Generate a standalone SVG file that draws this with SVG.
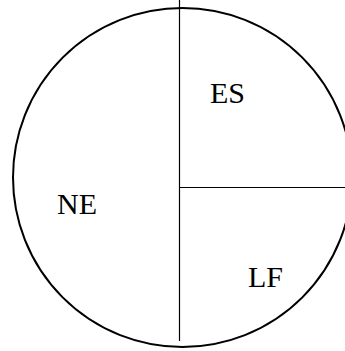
<svg xmlns="http://www.w3.org/2000/svg" width="345" height="351" viewBox="0 0 345 351">
<style>
.lbl{font-family:"Liberation Serif",serif;font-size:30px;fill:#000}
.ln{stroke:#000;stroke-width:1.2;fill:none}
</style>
<rect width="345" height="351" fill="#fff"/>
<g id="boundary"><circle cx="182.5" cy="177.5" r="169.5" fill="none" stroke="#000" stroke-width="2"/></g>
<g id="connectors">
<line class="ln" x1="179.5" y1="0" x2="179.5" y2="341"/>
<line class="ln" x1="179.5" y1="187.5" x2="345" y2="187.5"/>
</g>
<g id="ES"><text class="lbl" x="210" y="103">ES</text></g>
<g id="NE"><text class="lbl" x="57" y="214">NE</text></g>
<g id="LF"><text class="lbl" x="248" y="287">LF</text></g>
</svg>
